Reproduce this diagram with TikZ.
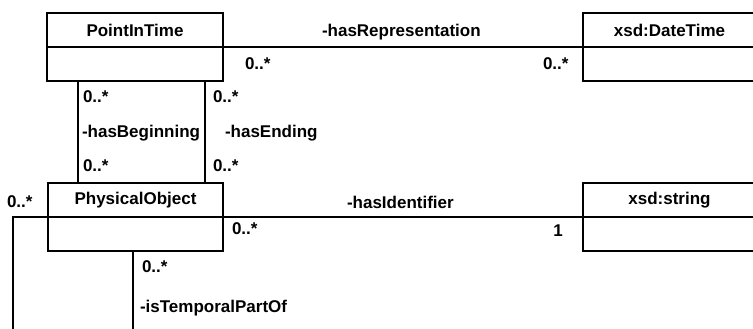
\documentclass[tikz,border=0pt]{standalone}
\usepackage{fontspec}
\setmainfont{Liberation Sans}
\begin{document}
\begin{tikzpicture}[x=1pt,y=-1pt,
  every node/.style={font=\fontsize{17}{20}\selectfont\bfseries, inner sep=0pt, outer sep=0pt},
  cls/.style={draw, line width=2.2pt, rectangle, anchor=north west, minimum height=34pt},
  lbl/.style={anchor=west},
  conn/.style={line width=2.2pt}]
\useasboundingbox (0,0) rectangle (753,329);
% classes
\node[cls, minimum width=176pt] (pitH) at (47,13) {PointInTime};
\node[cls, minimum width=176pt] (pitB) at (47,47) {};
\node[cls, minimum width=173pt] (dtH) at (583,13) {xsd:DateTime};
\node[cls, minimum width=173pt] (dtB) at (583,47) {};
\node[cls, minimum width=175pt] (poH) at (48,183) {PhysicalObject};
\node[cls, minimum width=175pt] (poB) at (48,217) {};
\node[cls, minimum width=173pt] (strH) at (583,183) {xsd:string};
\node[cls, minimum width=173pt] (strB) at (583,217) {};
% connectors
\draw[conn] (pitB.north east) -- (dtB.north west);
\draw[conn] (pitB.south west) ++(31,0) coordinate (b1) -- (b1 |- poH.north);
\draw[conn] (pitB.south east) ++(-18,0) coordinate (e1) -- (e1 |- poH.north);
\draw[conn] (poB.north east) -- (strB.north west);
\coordinate (loopL) at (13,340);
\coordinate (loopR) at (133,340);
\draw[conn] (poB.north west) -| (loopL);
\draw[conn] (loopR |- poB.south) -- (loopR);
% labels
\node[lbl] (lrep) at (322,32) {-hasRepresentation};
\node[lbl] (m1) at (245,64) {0..*};
\node[lbl] (m2) at (543,64) {0..*};
\node[lbl] (m3) at (83,97) {0..*};
\node[lbl] (lbeg) at (82,133) {-hasBeginning};
\node[lbl] (m4) at (83,166) {0..*};
\node[lbl] (m5) at (213,97) {0..*};
\node[lbl] (lend) at (225,133) {-hasEnding};
\node[lbl] (m6) at (213,166) {0..*};
\node[lbl] (m7) at (7,202) {0..*};
\node[lbl] (lid) at (347,202) {-hasIdentifier};
\node[lbl] (m8) at (232,229) {0..*};
\node (m9) at (558,231) {1};
\node[lbl] (m10) at (142,267) {0..*};
\node[lbl] (ltp) at (140,308) {-isTemporalPartOf};
\end{tikzpicture}
\end{document}
